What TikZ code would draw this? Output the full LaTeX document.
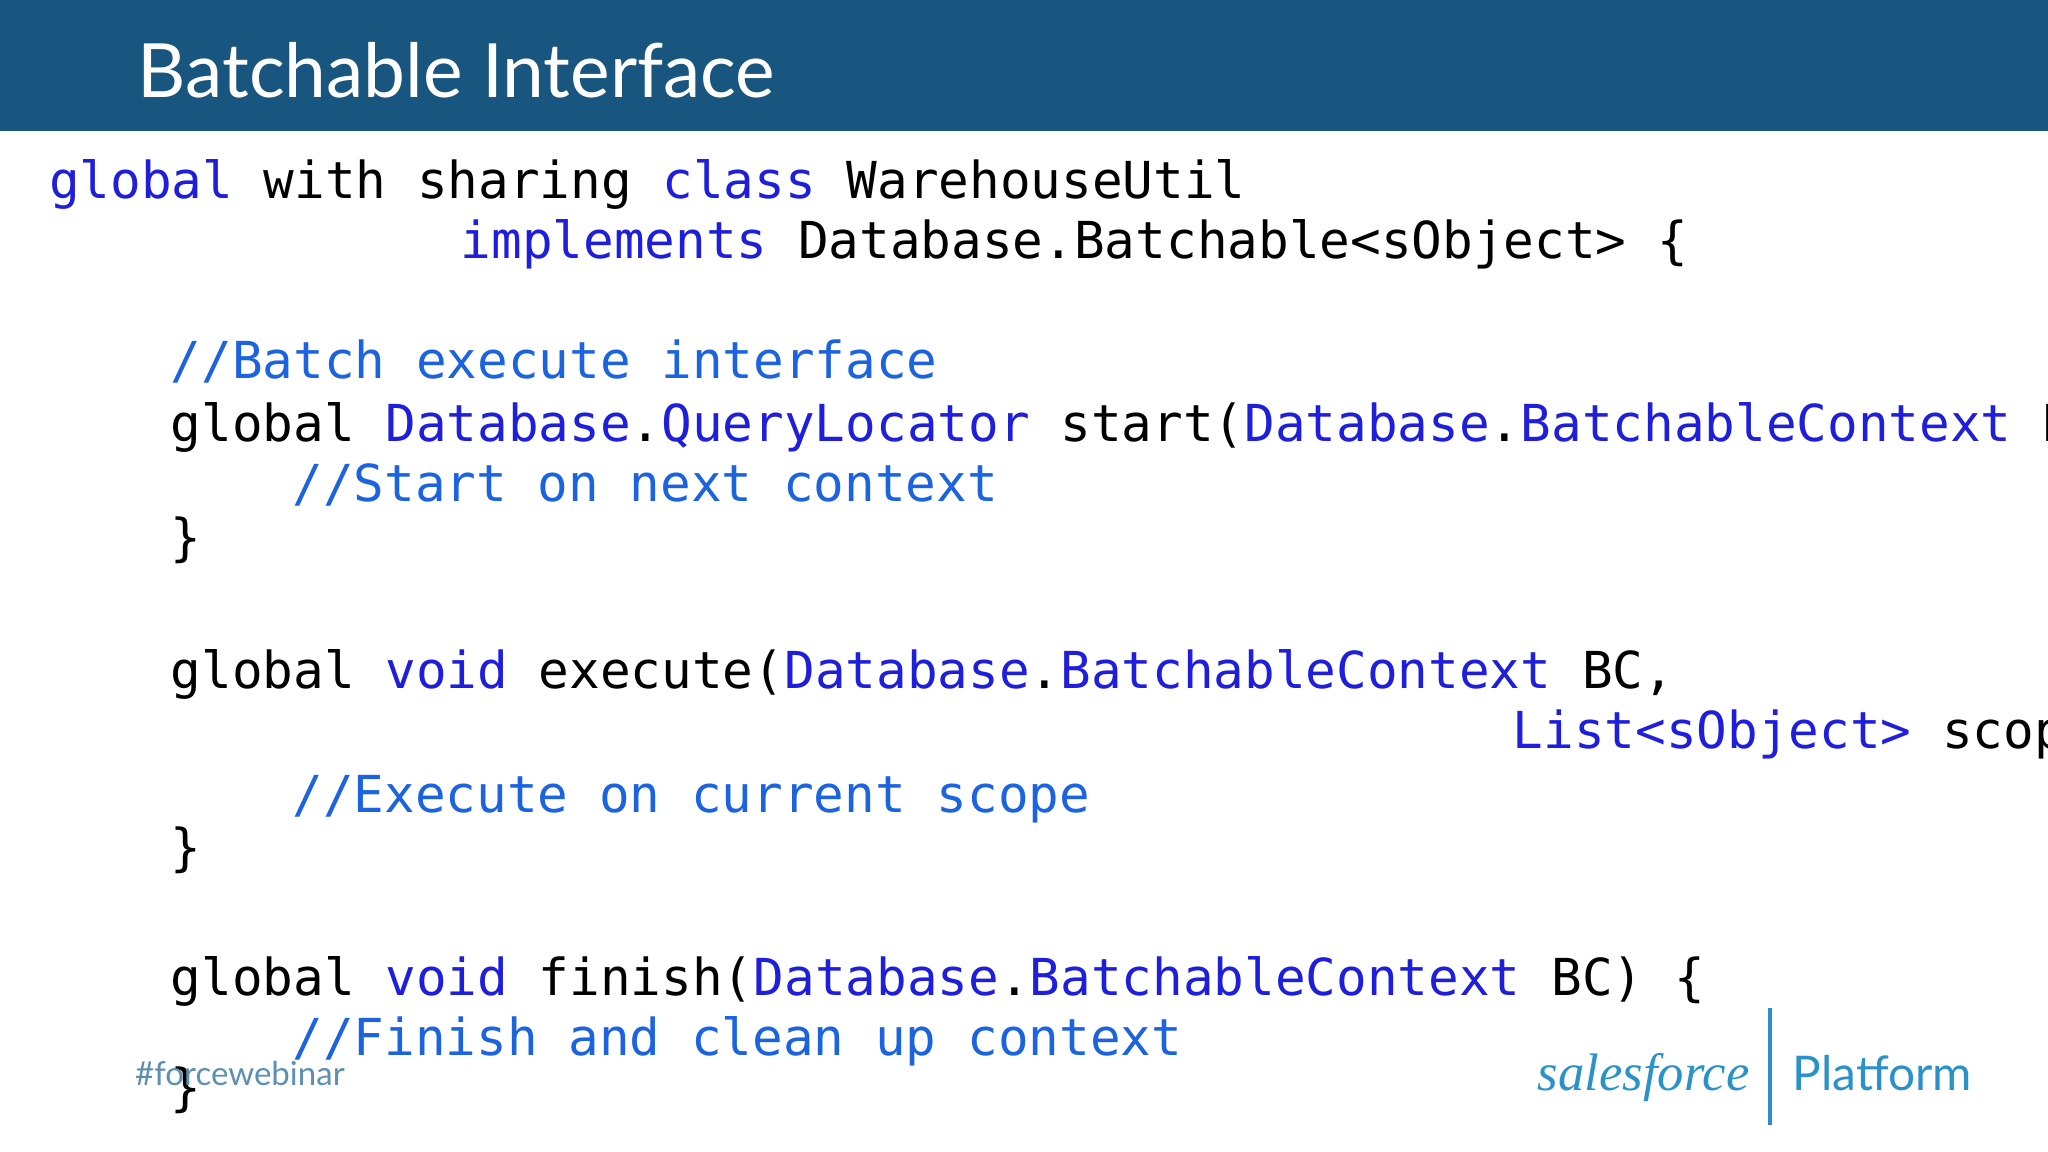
\documentclass[tikz,border=0pt]{standalone}
\usepackage{fontspec}
\setmainfont{Lato}
\setmonofont{DejaVu Sans Mono}
\definecolor{hdrblue}{HTML}{18567F}
\definecolor{kwblue}{HTML}{1F1FDB}
\definecolor{cmblue}{HTML}{1C63E0}
\definecolor{sfteal}{HTML}{2A92C8}
\definecolor{taggray}{HTML}{5C8FB0}
\newcommand{\kw}[1]{\textcolor{kwblue}{#1}}
\newcommand{\cm}[1]{\textcolor{cmblue}{#1}}
\tikzset{
  codeline/.style={anchor=base west, inner sep=0pt, font=\fontsize{14.5}{17}\selectfont\ttfamily},
  titletext/.style={anchor=base west, inner sep=0pt, text=white, font=\fontsize{21.3}{25}\selectfont},
}
\begin{document}
\begin{tikzpicture}
  \useasboundingbox (0,0) rectangle (20.48,-11.52);
  \clip (0,0) rectangle (20.48,-11.52);
  % Header bar
  \fill [hdrblue] (0,0) rectangle (20.48,-1.306);
  \node [titletext] (title) at (1.371,-0.98) {Batchable Interface};

  % Class declaration
  \node [codeline] (l1) at (0.483,-1.985) {\kw{global} with sharing \kw{class} WarehouseUtil};
  \node [codeline] (l2) at (4.600,-2.586) {\kw{implements} Database.Batchable<sObject> \{};

  % start()
  \node [codeline] (l3) at (1.700,-3.787) {\cm{//Batch execute interface}};
  \node [codeline] (l4) at (1.700,-4.414) {global \kw{Database}.\kw{QueryLocator} start(\kw{Database}.\kw{BatchableContext} BC) \{};
  \node [codeline] (l5) at (2.917,-5.015) {\cm{//Start on next context}};
  \node [codeline] (l6) at (1.700,-5.560) {\}};

  % execute()
  \node [codeline] (l7) at (1.700,-6.883) {global \kw{void} execute(\kw{Database}.\kw{BatchableContext} BC,};
  \node [codeline] (l8) at (15.120,-7.483) {\kw{List<sObject>} scope) \{};
  \node [codeline] (l9) at (2.917,-8.123) {\cm{//Execute on current scope}};
  \node [codeline] (l10) at (1.700,-8.650) {\}};

  % finish()
  \node [codeline] (l11) at (1.700,-9.951) {global \kw{void} finish(\kw{Database}.\kw{BatchableContext} BC) \{};
  \node [codeline] (l12) at (2.917,-10.552) {\cm{//Finish and clean up context}};
  \node [codeline] (l13) at (1.700,-11.050) {\}};

  % Footer
  \node [anchor=base west, inner sep=0pt, text=taggray, font=\fontsize{9.4}{11}\selectfont] (tag) at (1.345,-10.85) {\#forcewebinar};
  \node [anchor=base west, inner sep=0pt, text=sfteal, font=\fontsize{15}{18}\selectfont\itshape\fontspec{Liberation Serif}] (sf) at (15.37,-10.90) {salesforce};
  \draw [sfteal, line width=1.2pt] (17.70,-10.08) -- (17.70,-11.25);
  \node [anchor=base west, inner sep=0pt, text=sfteal, font=\fontsize{13.6}{16}\selectfont] (platform) at (17.92,-10.90) {Platform};
\end{tikzpicture}
\end{document}
